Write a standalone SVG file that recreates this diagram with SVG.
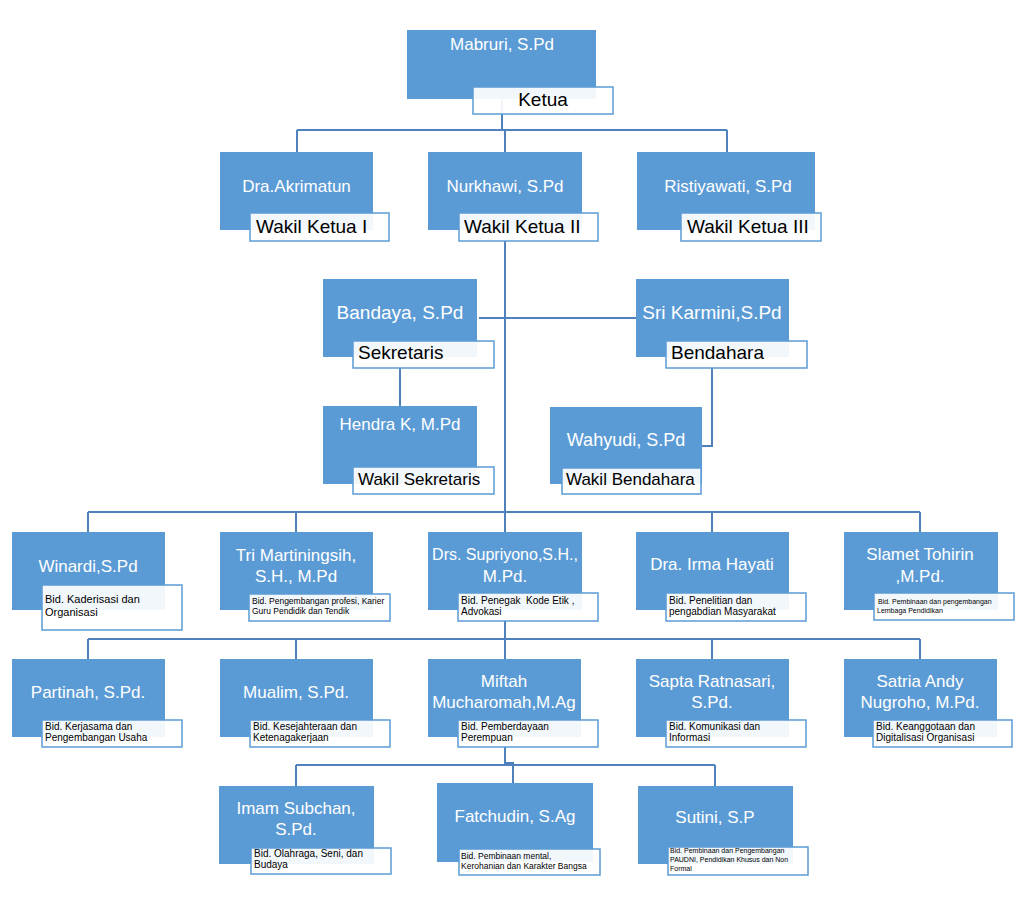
<svg xmlns="http://www.w3.org/2000/svg" width="1024" height="904" viewBox="0 0 1024 904">
<style>
text{font-family:"Liberation Sans",Arial,sans-serif}
.box{fill:#5B9BD5}
.lbl{fill:#fff;fill-opacity:.92;stroke:#5B9BD5;stroke-width:1.5}
.nm{fill:#fff;font-size:17px;text-anchor:middle}
.big{font-size:19px}
.t{fill:#000;font-size:19px}
.tm{text-anchor:middle}
.s11{fill:#000;font-size:11px}
.s10{fill:#000;font-size:10px}
.s85{fill:#000;font-size:8.5px}
.s7{fill:#000;font-size:7px}
#connectors path{fill:none;stroke:#4F81BD;stroke-width:2}
</style>
<rect width="1024" height="904" fill="#fff"/>
<g id="connectors">
<path d="M502,99V130M297,130H727M297,130V152M505,130V152M727,130V152"/>
<path d="M505,241V532M479,318H636"/>
<path d="M400,368V406"/>
<path d="M712,368V446H702"/>
<path d="M88,512H920M88,512V532M296,512V532M712,512V532M920,512V532"/>
<path d="M505,621V659M88,639H920M88,639V659M296,639V659M712,639V659M920,639V659"/>
<path d="M505,747V763H513V783M296,765H715M296,765V786M715,765V786"/>
</g>
<g id="ketua">
<rect class="box" x="407" y="30" width="189" height="69"/>
<text class="nm" x="502" y="50">Mabruri, S.Pd</text>
<rect class="lbl" x="473" y="87" width="140" height="27"/>
<text class="t tm" x="543" y="106">Ketua</text>
</g>
<g id="wakil-ketua-1">
<rect class="box" x="220" y="152" width="153" height="78"/>
<text class="nm" x="296.5" y="192">Dra.Akrimatun</text>
<rect class="lbl" x="250" y="213" width="139" height="28"/>
<text class="t" x="256" y="233">Wakil Ketua I</text>
</g>
<g id="wakil-ketua-2">
<rect class="box" x="428" y="152" width="154" height="78"/>
<text class="nm" x="505" y="192">Nurkhawi, S.Pd</text>
<rect class="lbl" x="459" y="213" width="139" height="28"/>
<text class="t" x="464" y="233">Wakil Ketua II</text>
</g>
<g id="wakil-ketua-3">
<rect class="box" x="637" y="152" width="178" height="78"/>
<text class="nm" x="728" y="192">Ristiyawati, S.Pd</text>
<rect class="lbl" x="681" y="213" width="140" height="28"/>
<text class="t" x="687" y="233">Wakil Ketua III</text>
</g>
<g id="sekretaris">
<rect class="box" x="323" y="279" width="154" height="78"/>
<text class="nm big" x="400" y="319">Bandaya, S.Pd</text>
<rect class="lbl" x="353" y="341" width="141" height="27"/>
<text class="t" x="358" y="359">Sekretaris</text>
</g>
<g id="bendahara">
<rect class="box" x="636" y="279" width="153" height="78"/>
<text class="nm big" x="712" y="319">Sri Karmini,S.Pd</text>
<rect class="lbl" x="666" y="341" width="141" height="27"/>
<text class="t" x="671" y="359">Bendahara</text>
</g>
<g id="wakil-sekretaris">
<rect class="box" x="323" y="406" width="154" height="78"/>
<text class="nm" x="400" y="430">Hendra K, M.Pd</text>
<rect class="lbl" x="353" y="467" width="141" height="27"/>
<text class="t" x="358" y="485" style="font-size:17px">Wakil Sekretaris</text>
</g>
<g id="wakil-bendahara">
<rect class="box" x="550" y="407" width="152" height="77"/>
<text class="nm" x="626" y="446" style="font-size:18px">Wahyudi, S.Pd</text>
<rect class="lbl" x="562" y="468" width="139" height="26"/>
<text class="t" x="566" y="485" style="font-size:17px">Wakil Bendahara</text>
</g>
<g id="bid-kaderisasi">
<rect class="box" x="12" y="532" width="153" height="78"/>
<text class="nm" x="88" y="572">Winardi,S.Pd</text>
<rect class="lbl" x="42" y="585" width="140" height="45"/>
<text class="s11" x="45" y="603">Bid. Kaderisasi dan</text>
<text class="s11" x="45" y="616">Organisasi</text>
</g>
<g id="bid-profesi">
<rect class="box" x="220" y="532" width="153" height="78"/>
<text class="nm" x="296" y="561">Tri Martiningsih,</text>
<text class="nm" x="296" y="582">S.H., M.Pd</text>
<rect class="lbl" x="249" y="594" width="141" height="27"/>
<text class="s85" x="252" y="604">Bid. Pengembangan profesi, Karier</text>
<text class="s85" x="252" y="614">Guru Pendidik dan Tendik</text>
</g>
<g id="bid-kode-etik">
<rect class="box" x="428" y="532" width="154" height="78"/>
<text class="nm" x="505" y="560" style="font-size:16px">Drs. Supriyono,S.H.,</text>
<text class="nm" x="505" y="582">M.Pd.</text>
<rect class="lbl" x="458" y="593" width="140" height="28"/>
<text class="s10" x="461" y="604" xml:space="preserve">Bid. Penegak  Kode Etik ,</text>
<text class="s10" x="461" y="615">Advokasi</text>
</g>
<g id="bid-penelitian">
<rect class="box" x="636" y="532" width="153" height="78"/>
<text class="nm" x="712" y="570">Dra. Irma Hayati</text>
<rect class="lbl" x="666" y="593" width="140" height="28"/>
<text class="s10" x="669" y="604">Bid. Penelitian dan</text>
<text class="s10" x="669" y="615">pengabdian Masyarakat</text>
</g>
<g id="bid-lembaga">
<rect class="box" x="844" y="532" width="154" height="78"/>
<text class="nm" x="920" y="560">Slamet Tohirin</text>
<text class="nm" x="920" y="582">,M.Pd.</text>
<rect class="lbl" x="874" y="593" width="140" height="27"/>
<text class="s7" x="878" y="604">Bid. Pembinaan dan pengembangan</text>
<text class="s7" x="877" y="613">Lembaga Pendidikan</text>
</g>
<g id="bid-kerjasama">
<rect class="box" x="12" y="659" width="153" height="78"/>
<text class="nm" x="88" y="698">Partinah, S.Pd.</text>
<rect class="lbl" x="42" y="720" width="140" height="27"/>
<text class="s10" x="45" y="730">Bid. Kerjasama dan</text>
<text class="s10" x="45" y="741">Pengembangan Usaha</text>
</g>
<g id="bid-kesejahteraan">
<rect class="box" x="220" y="659" width="153" height="78"/>
<text class="nm" x="296" y="698">Mualim, S.Pd.</text>
<rect class="lbl" x="250" y="720" width="140" height="27"/>
<text class="s10" x="253" y="730">Bid. Kesejahteraan dan</text>
<text class="s10" x="253" y="741">Ketenagakerjaan</text>
</g>
<g id="bid-perempuan">
<rect class="box" x="428" y="659" width="153" height="78"/>
<text class="nm" x="504" y="687">Miftah</text>
<text class="nm" x="504" y="708">Mucharomah,M.Ag</text>
<rect class="lbl" x="458" y="720" width="140" height="27"/>
<text class="s10" x="461" y="730">Bid. Pemberdayaan</text>
<text class="s10" x="461" y="741">Perempuan</text>
</g>
<g id="bid-komunikasi">
<rect class="box" x="636" y="659" width="153" height="78"/>
<text class="nm" x="712" y="687">Sapta Ratnasari,</text>
<text class="nm" x="712" y="708">S.Pd.</text>
<rect class="lbl" x="666" y="720" width="140" height="27"/>
<text class="s10" x="669" y="730">Bid. Komunikasi dan</text>
<text class="s10" x="669" y="741">Informasi</text>
</g>
<g id="bid-keanggotaan">
<rect class="box" x="844" y="659" width="153" height="78"/>
<text class="nm" x="920" y="687">Satria Andy</text>
<text class="nm" x="920" y="708">Nugroho, M.Pd.</text>
<rect class="lbl" x="873" y="720" width="139" height="27"/>
<text class="s10" x="876" y="730">Bid. Keanggotaan dan</text>
<text class="s10" x="876" y="741">Digitalisasi Organisasi</text>
</g>
<g id="bid-olahraga">
<rect class="box" x="219" y="786" width="155" height="78"/>
<text class="nm" x="296" y="814">Imam Subchan,</text>
<text class="nm" x="296" y="835">S.Pd.</text>
<rect class="lbl" x="251" y="848" width="140" height="26"/>
<text class="s10" x="254" y="857">Bid. Olahraga, Seni, dan</text>
<text class="s10" x="254" y="868">Budaya</text>
</g>
<g id="bid-mental">
<rect class="box" x="437" y="783" width="156" height="79"/>
<text class="nm" x="515" y="822">Fatchudin, S.Ag</text>
<rect class="lbl" x="459" y="849" width="141" height="26"/>
<text class="s85" x="461" y="859">Bid. Pembinaan mental,</text>
<text class="s85" x="461" y="869">Kerohanian dan Karakter Bangsa</text>
</g>
<g id="bid-paudni">
<rect class="box" x="638" y="786" width="155" height="78"/>
<text class="nm" x="715" y="823">Sutini, S.P</text>
<rect class="lbl" x="668" y="847" width="140" height="28"/>
<text class="s7" x="670" y="853">Bid. Pembinaan dan Pengembangan</text>
<text class="s7" x="670" y="862">PAUDNI, Pendidikan Khusus dan Non</text>
<text class="s7" x="670" y="871">Formal</text>
</g>
</svg>
